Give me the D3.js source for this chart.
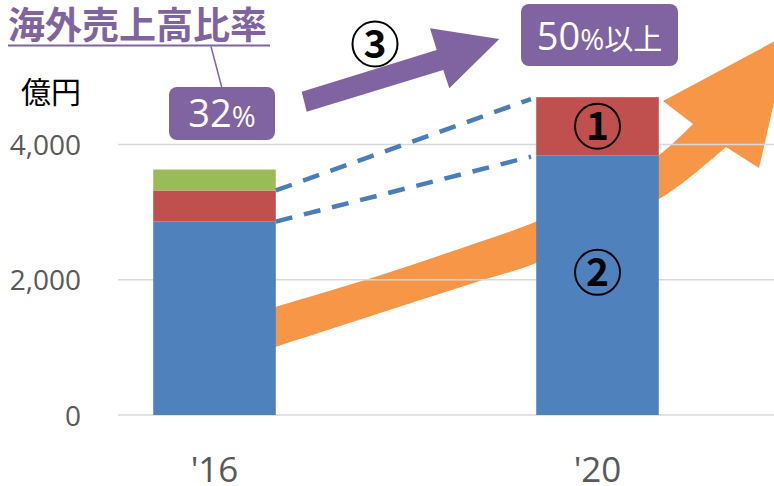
<!DOCTYPE html>
<html><head><meta charset="utf-8">
<script src="https://cdn.jsdelivr.net/npm/d3@7"></script>
<style>body{margin:0;background:#fff}svg{display:block}</style>
</head><body>
<svg id="c" width="774" height="486"></svg>
<script>
// ---- data ----
const years = ["'16", "'20"];
const seriesBlue = [2860, 3840];   // ②
const seriesRed = [460, 860];      // ①
const seriesGreen = [310, 0];
const yTickValues = [0, 2000, 4000];
const yTickLabels = ["0", "2,000", "4,000"];
const titleText = "海外売上高比率";
const unitText = "億円";
const ratioNow = ["32", "%"];
const ratioTarget = ["50", "%以上"];

const colors = {blue:"#4F81BD", red:"#C0504D", green:"#9BBB59", orange:"#F79646", purple:"#8064A2", grid:"#D9D9D9", text:"#595959"};

const svg = d3.select("#c");
const x = d3.scaleBand().domain(years).range([23, 789]).paddingInner(0.68).paddingOuter(0.34);
const y = d3.scaleLinear().domain([0, 4000]).range([415, 144.5]);

const rows = years.map((yr, i) => ({year: yr, blue: seriesBlue[i], red: seriesRed[i], green: seriesGreen[i]}));
const stack = d3.stack().keys(["blue", "red", "green"])(rows);

// ---- orange growth arrow (decoration, behind) ----
const topEdge = [[262,311],[276,306.7],[365,280],[450,252],[535.7,221.7],[600,191],[658,156],[693,124]];
const botEdge = [[262,351],[276,346.7],[380,313],[483,280],[535.7,263.3],[610,226],[673,190],[726,147]];
const lineGen = d3.line().curve(d3.curveCatmullRom.alpha(0.5));
const botPath = lineGen(botEdge);
const topRev = lineGen(topEdge.slice().reverse());
const orangePath = botPath + "L759,168L790,33L663,101L" + topRev.slice(1) + "Z";
svg.append("path").attr("d", orangePath).attr("fill", colors.orange);

// ---- gridlines ----
svg.append("g").selectAll("line").data(yTickValues).join("line")
  .attr("x1", 118).attr("x2", 774)
  .attr("y1", d => y(d)).attr("y2", d => y(d))
  .attr("stroke", colors.grid).attr("stroke-width", 1.5);

// ---- y axis labels ----
const yAxis = d3.axisLeft(y).tickValues(yTickValues).tickFormat((d, i) => yTickLabels[i]).tickSize(0).tickPadding(0);
const gy = svg.append("g").attr("transform", "translate(81,0)").call(yAxis);
gy.select(".domain").remove();
gy.selectAll("text").attr("font-family", "'Open Sans', sans-serif").attr("font-size", 28).attr("fill", colors.text).attr("dy", "0.36em");

// ---- bars ----
const colorMap = {blue: colors.blue, red: colors.red, green: colors.green};
svg.append("g").selectAll("g").data(stack).join("g")
  .attr("fill", d => colorMap[d.key])
  .selectAll("rect").data(d => d).join("rect")
  .attr("x", d => x(d.data.year))
  .attr("width", x.bandwidth())
  .attr("y", d => y(d[1]))
  .attr("height", d => y(d[0]) - y(d[1]));

// ---- x axis labels ----
const xAxis = d3.axisBottom(x).tickSize(0).tickPadding(0);
const gx = svg.append("g").attr("transform", "translate(0,482)").call(xAxis);
gx.select(".domain").remove();
gx.selectAll("text").attr("font-family", "'Open Sans', sans-serif").attr("font-size", 35).attr("fill", colors.text).attr("dy", 0);

// ---- dashed connectors (from data) ----
const x16r = x(years[0]) + x.bandwidth();
const x20l = x(years[1]);
const t = 0.98;
const conn = [
  [seriesBlue[0] + seriesRed[0], seriesBlue[1] + seriesRed[1]],
  [seriesBlue[0], seriesBlue[1]]
];
svg.append("g").selectAll("line").data(conn).join("line")
  .attr("x1", x16r).attr("y1", d => y(d[0]))
  .attr("x2", x16r + (x20l - x16r) * t)
  .attr("y2", d => y(d[0]) + (y(d[1]) - y(d[0])) * t)
  .attr("stroke", "#4A7EBB").attr("stroke-width", 4.5).attr("stroke-dasharray", "17,12");

// ---- circled numbers ----
function circled(cx, cy, label) {
  svg.append("circle").attr("cx", cx).attr("cy", cy).attr("r", 22.5).attr("fill", "none").attr("stroke", "#000").attr("stroke-width", 2);
  svg.append("text").attr("x", cx).attr("y", cy + 14).attr("text-anchor", "middle")
    .attr("font-family", "'Noto Sans CJK JP', 'DejaVu Sans', sans-serif").attr("font-weight", "bold").attr("font-size", 39).attr("fill", "#000").text(label);
}
const cx20 = x(years[1]) + x.bandwidth() / 2;
circled(cx20, y(seriesBlue[1] + seriesRed[1] / 2), "1");
circled(cx20, 272.3, "2");
circled(375, 44, "3");

// ---- purple arrow ----
svg.append("path").attr("d", "M301.7,91.7L436.7,50L430,28.3L499.3,39L449.3,88.3L443.3,70L306.7,111.7Z").attr("fill", colors.purple);

// ---- title ----
svg.append("text").attr("x", 8).attr("y", 39)
  .attr("font-family", "'Noto Sans CJK JP', sans-serif").attr("font-weight", "bold").attr("font-size", 37)
  .attr("fill", colors.purple).text(titleText);
svg.append("line").attr("x1", 8).attr("x2", 270).attr("y1", 45.5).attr("y2", 45.5).attr("stroke", colors.purple).attr("stroke-width", 2);
svg.append("line").attr("x1", 211).attr("y1", 46.5).attr("x2", 221.7).attr("y2", 87).attr("stroke", colors.purple).attr("stroke-width", 1.5);

// unit
svg.append("text").attr("x", 21).attr("y", 103)
  .attr("font-family", "'Noto Sans CJK JP', sans-serif").attr("font-size", 30).attr("fill", "#000").text(unitText);

// ---- ratio boxes ----
function ratioBox(bx, by, bw, bh, parts, big, small, baseline) {
  svg.append("rect").attr("x", bx).attr("y", by).attr("width", bw).attr("height", bh).attr("rx", 8).attr("fill", colors.purple);
  const tx = svg.append("text").attr("x", bx + bw / 2).attr("y", baseline).attr("text-anchor", "middle").attr("fill", "#fff")
    .attr("font-family", "'Open Sans', 'Noto Sans CJK JP', sans-serif");
  tx.append("tspan").attr("font-size", big).text(parts[0]);
  tx.append("tspan").attr("font-size", small).text(parts[1]);
}
ratioBox(169, 87, 106, 53, ratioNow, 38, 29, 127);
ratioBox(521, 4, 157, 62, ratioTarget, 38, 29, 50);
</script>
</body></html>
